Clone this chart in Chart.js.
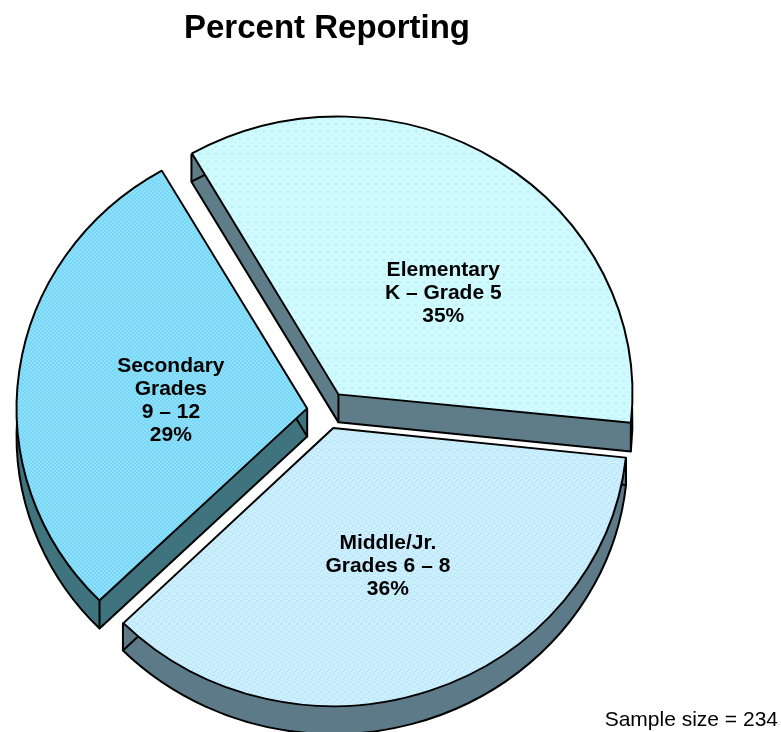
<!DOCTYPE html>
<html>
<head>
<meta charset="utf-8">
<title>Percent Reporting</title>
<script src="https://cdn.jsdelivr.net/npm/chart.js@4.4.1/dist/chart.umd.min.js"></script>
<style>
  html, body { margin: 0; padding: 0; background: #fff; }
</style>
</head>
<body>
<canvas id="pieChart" width="781" height="732"></canvas>
<script>
// data
const categories = ['Elementary', 'Middle/Jr.', 'Secondary'];
const sliceLabels = [
  ['Elementary', 'K \u2013 Grade 5'],
  ['Middle/Jr.', 'Grades 6 \u2013 8'],
  ['Secondary', 'Grades', '9 \u2013 12']
];
const percents = [35, 36, 29];
const sampleSize = 234;

// looks
const FONT = '"Liberation Sans", Arial, Helvetica, sans-serif';
const sideColors = ['#5f7d88', '#5d7a89', '#3f737d'];
const explode = [84, 76, 80];     // chart.js arc offset per slice
const labelSpot = [[0.59, 0.51], [0.49, 0.53], [0.46, 0.47]]; // [fraction of sweep, fraction of radius]
const depth = 28;     // px of the slab edge
const squashY = 0.945; // slight tilt of the pie

function makePattern(base, dot, step, kind) {
  const c = document.createElement('canvas');
  c.width = c.height = step;
  const p = c.getContext('2d');
  p.fillStyle = base;
  p.fillRect(0, 0, step, step);
  p.fillStyle = dot;
  const h = step / 2;
  if (kind === 'diamond') {
    p.fillRect(h, h - 1, 1, 1); p.fillRect(h - 1, h, 1, 1);
    p.fillRect(h + 1, h, 1, 1); p.fillRect(h, h + 1, 1, 1);
    p.fillRect(0, 0, 1, 1);
  } else if (kind === 'speckle') {
    [[0,0],[3,1],[1,4],[5,3],[4,6],[6,0],[2,2],[7,5]].forEach(([x, y]) => p.fillRect(x, y, 1, 1));
  } else {
    p.fillRect(0, 0, h, h); p.fillRect(h, h, h, h);
  }
  return document.createElement('canvas').getContext('2d').createPattern(c, 'repeat');
}

const topFills = [
  makePattern('#cffafe', '#b3e9f6', 8, 'diamond'),
  makePattern('#ccf0fd', '#a6d3f3', 8, 'speckle'),
  makePattern('#6fd4f6', '#98e3fb', 4, 'check')
];

function squash(ctx, cx, cy) {
  ctx.translate(cx, cy);
  ctx.scale(1, squashY);
  ctx.translate(-cx, -cy);
}

// same geometry chart.js uses for an exploded arc
function geom(arc) {
  const off = (arc.options.offset || 0) / 4;
  const mid = (arc.startAngle + arc.endAngle) / 2;
  const fix = 1 - Math.sin(Math.min(Math.PI, arc.circumference));
  return {
    x: arc.x + Math.cos(mid) * off,
    y: arc.y + Math.sin(mid) * off,
    r: arc.outerRadius + off * fix,
    a0: arc.startAngle,
    a1: arc.endAngle
  };
}

function toScreen(px, py, cy) {
  return [px, cy + (py - cy) * squashY];
}

const slabPlugin = {
  id: 'slab',
  beforeDatasetsDraw(chart) {
    const ctx = chart.ctx;
    const arcs = chart.getDatasetMeta(0).data;
    const cx = arcs[0].x, cy = arcs[0].y;
    arcs.forEach((arc, i) => {
      const g = geom(arc);
      ctx.save();
      ctx.fillStyle = sideColors[i];
      for (let d = 1; d <= depth; d++) {
        ctx.save();
        ctx.translate(0, d);
        squash(ctx, cx, cy);
        ctx.beginPath();
        ctx.moveTo(g.x, g.y);
        ctx.arc(g.x, g.y, g.r, g.a0, g.a1);
        ctx.closePath();
        ctx.restore();
        ctx.fill();
      }
      // outline of the bottom face
      ctx.save();
      ctx.translate(0, depth);
      squash(ctx, cx, cy);
      ctx.beginPath();
      ctx.moveTo(g.x, g.y);
      ctx.arc(g.x, g.y, g.r, g.a0, g.a1);
      ctx.closePath();
      ctx.restore();
      ctx.lineWidth = 2;
      ctx.lineJoin = 'round';
      ctx.strokeStyle = '#000';
      ctx.stroke();
      // vertical edges at the corners
      const corners = [
        [g.x, g.y],
        [g.x + Math.cos(g.a0) * g.r, g.y + Math.sin(g.a0) * g.r],
        [g.x + Math.cos(g.a1) * g.r, g.y + Math.sin(g.a1) * g.r]
      ];
      ctx.beginPath();
      corners.forEach(([px, py]) => {
        const [sx, sy] = toScreen(px, py, cy);
        ctx.moveTo(sx, sy);
        ctx.lineTo(sx, sy + depth);
      });
      ctx.stroke();
      ctx.restore();
    });
    // tops get drawn squashed too
    ctx.save();
    squash(ctx, cx, cy);
  },
  afterDatasetsDraw(chart) {
    const ctx = chart.ctx;
    ctx.restore();
    const arcs = chart.getDatasetMeta(0).data;
    const cy = arcs[0].y;
    ctx.save();
    ctx.fillStyle = '#000';
    ctx.font = 'bold 21px ' + FONT;
    ctx.textAlign = 'center';
    ctx.textBaseline = 'middle';
    arcs.forEach((arc, i) => {
      const g = geom(arc);
      const a = g.a0 + (g.a1 - g.a0) * labelSpot[i][0];
      const rr = g.r * labelSpot[i][1];
      const [lx, ly] = toScreen(g.x + Math.cos(a) * rr, g.y + Math.sin(a) * rr, cy);
      const lines = sliceLabels[i].concat([percents[i] + '%']);
      const lh = 23;
      const top = ly - (lines.length - 1) * lh / 2;
      lines.forEach((t, k) => ctx.fillText(t, lx, top + k * lh));
    });
    ctx.restore();
  },
  afterDraw(chart) {
    const ctx = chart.ctx;
    ctx.save();
    ctx.fillStyle = '#000';
    ctx.font = '21px ' + FONT;
    ctx.textAlign = 'right';
    ctx.textBaseline = 'alphabetic';
    ctx.fillText('Sample size = ' + sampleSize, 778, 726);
    ctx.restore();
  }
};

const ctx = document.getElementById('pieChart').getContext('2d');
new Chart(ctx, {
  type: 'pie',
  data: {
    labels: categories,
    datasets: [{
      data: percents,
      backgroundColor: topFills,
      borderColor: '#000',
      borderWidth: 2,
      offset: explode,
      hoverOffset: 0,
      clip: false
    }]
  },
  options: {
    responsive: false,
    animation: false,
    rotation: -30,
    radius: 290,
    layout: { padding: { right: 127 } },
    events: [],
    plugins: {
      legend: { display: false },
      tooltip: { enabled: false },
      title: {
        display: true,
        text: 'Percent Reporting',
        color: '#000',
        font: { size: 33, weight: 'bold', family: FONT },
        padding: { top: 9, bottom: 41.4 }
      }
    }
  },
  plugins: [slabPlugin]
});
</script>
</body>
</html>
